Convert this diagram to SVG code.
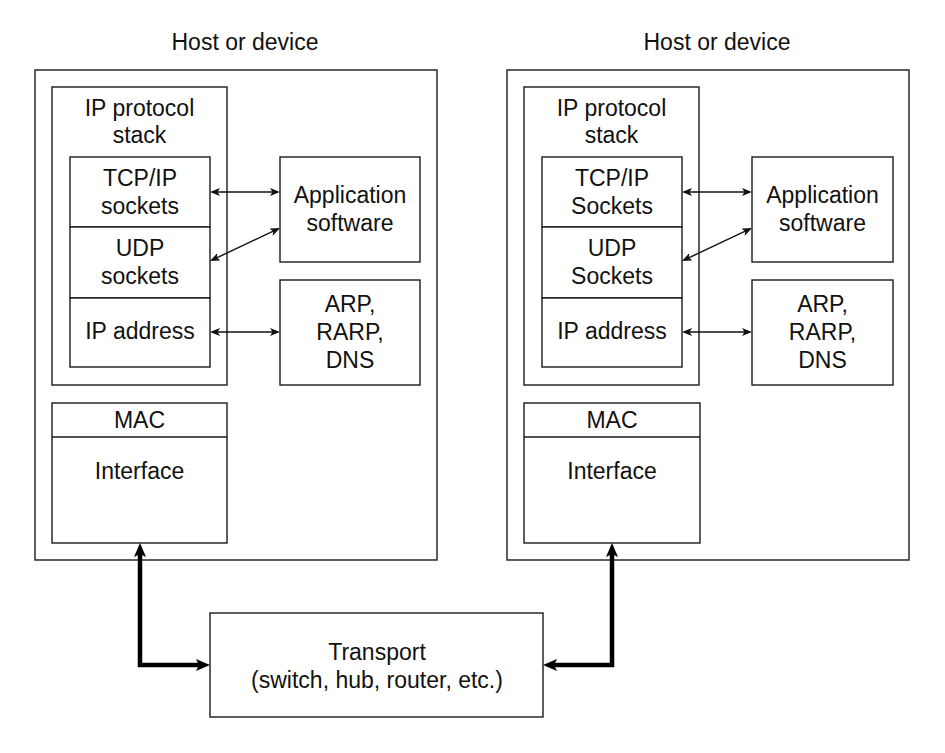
<svg xmlns="http://www.w3.org/2000/svg" width="945" height="753" viewBox="0 0 945 753">
<style>
  .box { fill: #ffffff; stroke: #1a1a1a; stroke-width: 1.4; }
  .div { stroke: #1a1a1a; stroke-width: 1.4; }
  .t { font-family: "Liberation Sans", Arial, sans-serif; font-size: 23px; fill: #111111; text-anchor: middle; }
  .thin { fill: none; stroke: #111111; stroke-width: 1.4; }
  .thick { fill: none; stroke: #000000; stroke-width: 4.5; stroke-linejoin: miter; }
</style>
<defs>
  <marker id="ah" viewBox="0 0 10 8" refX="6" refY="4" markerWidth="10" markerHeight="8" markerUnits="userSpaceOnUse" orient="auto-start-reverse">
    <path d="M0,0 L10,4 L0,8 L2.5,4 Z" fill="#111111"/>
  </marker>
  <marker id="AH" viewBox="0 0 14 12" refX="6" refY="6" markerWidth="14" markerHeight="12" markerUnits="userSpaceOnUse" orient="auto-start-reverse">
    <path d="M0,0 L14,6 L0,12 L3,6 Z" fill="#000000"/>
  </marker>
</defs>
<rect width="945" height="753" fill="#ffffff"/>

<g id="host-left">
  <g id="host-left-frame">
    <text class="t" x="245" y="50">Host or device</text>
    <rect class="box" x="35" y="70" width="402" height="490"/>
  </g>
  <g id="left-ip-stack">
    <rect class="box" x="52" y="87" width="175" height="298"/>
    <text class="t" x="139.5" y="116">IP protocol</text>
    <text class="t" x="139.5" y="143">stack</text>
  </g>
  <g id="left-tcp-sockets">
    <rect class="box" x="70" y="157" width="140" height="70"/>
    <text class="t" x="140" y="186">TCP/IP</text>
    <text class="t" x="140" y="214">sockets</text>
  </g>
  <g id="left-udp-sockets">
    <rect class="box" x="70" y="227" width="140" height="71"/>
    <text class="t" x="140" y="256">UDP</text>
    <text class="t" x="140" y="284">sockets</text>
  </g>
  <g id="left-ip-address">
    <rect class="box" x="70" y="298" width="140" height="69"/>
    <text class="t" x="140" y="339">IP address</text>
  </g>
  <g id="left-app">
    <rect class="box" x="280" y="157" width="140" height="105"/>
    <text class="t" x="350" y="203">Application</text>
    <text class="t" x="350" y="231">software</text>
  </g>
  <g id="left-arp">
    <rect class="box" x="280" y="280" width="140" height="105"/>
    <text class="t" x="350" y="312">ARP,</text>
    <text class="t" x="350" y="340">RARP,</text>
    <text class="t" x="350" y="368">DNS</text>
  </g>
  <g id="left-mac">
    <rect class="box" x="52" y="403" width="175" height="140"/>
    <line class="div" x1="52" y1="437" x2="227" y2="437"/>
    <text class="t" x="139.5" y="428">MAC</text>
    <text class="t" x="139.5" y="479">Interface</text>
  </g>
</g>

<g id="host-right">
  <g id="host-right-frame">
    <text class="t" x="717" y="50">Host or device</text>
    <rect class="box" x="507" y="70" width="402" height="490"/>
  </g>
  <g id="right-ip-stack">
    <rect class="box" x="524" y="87" width="175" height="298"/>
    <text class="t" x="611.5" y="116">IP protocol</text>
    <text class="t" x="611.5" y="143">stack</text>
  </g>
  <g id="right-tcp-sockets">
    <rect class="box" x="542" y="157" width="140" height="70"/>
    <text class="t" x="612" y="186">TCP/IP</text>
    <text class="t" x="612" y="214">Sockets</text>
  </g>
  <g id="right-udp-sockets">
    <rect class="box" x="542" y="227" width="140" height="71"/>
    <text class="t" x="612" y="256">UDP</text>
    <text class="t" x="612" y="284">Sockets</text>
  </g>
  <g id="right-ip-address">
    <rect class="box" x="542" y="298" width="140" height="69"/>
    <text class="t" x="612" y="339">IP address</text>
  </g>
  <g id="right-app">
    <rect class="box" x="752" y="157" width="141" height="105"/>
    <text class="t" x="822.5" y="203">Application</text>
    <text class="t" x="822.5" y="231">software</text>
  </g>
  <g id="right-arp">
    <rect class="box" x="752" y="280" width="141" height="105"/>
    <text class="t" x="822.5" y="312">ARP,</text>
    <text class="t" x="822.5" y="340">RARP,</text>
    <text class="t" x="822.5" y="368">DNS</text>
  </g>
  <g id="right-mac">
    <rect class="box" x="524" y="403" width="176" height="140"/>
    <line class="div" x1="524" y1="437" x2="700" y2="437"/>
    <text class="t" x="612" y="428">MAC</text>
    <text class="t" x="612" y="479">Interface</text>
  </g>
</g>

<g id="transport">
  <rect class="box" x="210" y="613" width="333" height="104"/>
  <text class="t" x="377" y="660">Transport</text>
  <text class="t" x="377" y="688">(switch, hub, router, etc.)</text>
</g>

<g id="connectors">
  <line class="thin" x1="214" y1="192" x2="276" y2="192" marker-start="url(#ah)" marker-end="url(#ah)"/>
  <line class="thin" x1="213.6" y1="259.3" x2="276.4" y2="229.7" marker-start="url(#ah)" marker-end="url(#ah)"/>
  <line class="thin" x1="214" y1="332" x2="276" y2="332" marker-start="url(#ah)" marker-end="url(#ah)"/>

  <line class="thin" x1="686" y1="192" x2="748" y2="192" marker-start="url(#ah)" marker-end="url(#ah)"/>
  <line class="thin" x1="685.6" y1="259.3" x2="748.4" y2="229.7" marker-start="url(#ah)" marker-end="url(#ah)"/>
  <line class="thin" x1="686" y1="332" x2="748" y2="332" marker-start="url(#ah)" marker-end="url(#ah)"/>

  <path class="thick" d="M140,551 L140,665 L202,665" marker-start="url(#AH)" marker-end="url(#AH)"/>
  <path class="thick" d="M612,551 L612,665 L551,665" marker-start="url(#AH)" marker-end="url(#AH)"/>
</g>
</svg>
